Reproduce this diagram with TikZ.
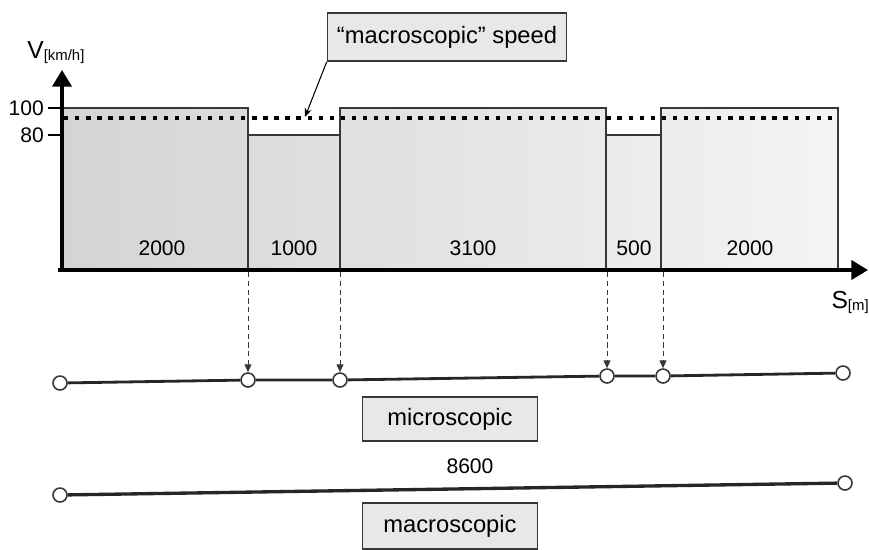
\documentclass[tikz,border=0pt]{standalone}
\usepackage{fontspec}
\setmainfont{Liberation Sans}
\usetikzlibrary{arrows.meta,positioning,calc}
\definecolor{barleft}{RGB}{212,212,212}
\definecolor{barright}{RGB}{244,244,244}
\definecolor{boxgray}{RGB}{232,232,232}
\definecolor{inkgray}{RGB}{55,55,55}

\begin{document}
\begin{tikzpicture}[x=0.02cm, y=-0.02cm,
    axis/.style={line width=1.8pt, -{Triangle[length=9.5pt, width=11pt]}},
    box/.style={draw=inkgray, line width=0.9pt, fill=boxgray, minimum width=#1, minimum height=0.9cm, font=\fontsize{13.5}{16}\selectfont},
    val/.style={font=\fontsize{12}{14}\selectfont, inner sep=1pt},
    pt/.style={circle, draw=inkgray, fill=white, line width=0.9pt, minimum size=0.28cm, inner sep=0pt},
    road/.style={line width=1.6pt, draw=black!85},
    drop/.style={draw=inkgray, line width=0.5pt, dash pattern=on 3pt off 2pt, -{Triangle[length=4.5pt, width=4pt]}},
    avg/.style={line width=2.5pt, dash pattern=on 2.5pt off 3.8pt}
]
\useasboundingbox (0,0) rectangle (869,549);

% speed profile
\shade[left color=barleft, right color=barright] (62,270) |- (248,108) |- (340,135) |- (606,108) |- (661,135) |- (838,108) -- (838,270) -- cycle;
\draw[inkgray, line width=0.6pt] (62,270) |- (248,108) |- (340,135) |- (606,108) |- (661,135) |- (838,108) -- (838,270);
\draw[inkgray, line width=0.6pt] (248,108) -- (248,270);
\draw[inkgray, line width=0.6pt] (340,108) -- (340,270);
\draw[inkgray, line width=0.6pt] (606,108) -- (606,270);
\draw[inkgray, line width=0.6pt] (661,108) -- (661,270);

% axes
\coordinate (orig) at (62,270);
\coordinate (vtip) at (62,70);
\coordinate (stip) at (868,270);
\draw[axis] (62,272) -- (vtip);
\draw[axis] (58,270) -- (stip);
\draw[line width=0.9pt] (48,108) -- (62,108);
\draw[line width=0.9pt] (48,135) -- (62,135);
\node[val, anchor=east] (t100) at (46,108) {100};
\node[val, anchor=east] (t80) at (46,135) {80};
\node[anchor=base west, inner sep=0pt, font=\fontsize{14}{16}\selectfont] (vlab) at (27,58) {V\raisebox{-1.5pt}{\fontsize{8.5}{10}\selectfont[km/h]}};
\node[anchor=base east, inner sep=0pt, font=\fontsize{14}{16}\selectfont] (slab) at (869,308) {S\raisebox{-1.5pt}{\fontsize{8.5}{10}\selectfont[m]}};

% segment lengths
\node[val] (s1) at (162,248) {2000};
\node[val] (s2) at (294,248) {1000};
\node[val] (s3) at (473,248) {3100};
\node[val] (s4) at (634,248) {500};
\node[val] (s5) at (750,248) {2000};

% macroscopic speed
\draw[avg] (64,118) -- (835,118);
\node[box=4.78cm, minimum height=0.96cm] (macspeed) at (447,37) {“macroscopic” speed};
\coordinate (avgdot) at (305,117);
\draw[line width=0.6pt, -{Stealth[length=5pt, width=4pt]}] (macspeed.south west) -- (avgdot);

% microscopic road
\node[pt] (m0) at (60,383) {};
\node[pt] (m1) at (248,380) {};
\node[pt] (m2) at (340,380) {};
\node[pt] (m3) at (607,376) {};
\node[pt] (m4) at (663,376) {};
\node[pt] (m5) at (843,373) {};
\draw[road] (m0) -- (m1) -- (m2) -- (m3) -- (m4) -- (m5);
\draw[drop] (248,272) -- (m1);
\draw[drop] (340,272) -- (m2);
\draw[drop] (607,272) -- (m3);
\draw[drop] (663,272) -- (m4);
\node[box=3.5cm, minimum height=0.88cm] (micro) at (450,419) {microscopic};

% macroscopic road
\node[val] (total) at (470,466) {8600};
\node[pt] (a0) at (60,495) {};
\node[pt] (a1) at (845,483) {};
\draw[road, line width=1.9pt] (a0) -- (a1);
\node[box=3.5cm, minimum height=0.92cm] (macro) at (450,526) {macroscopic};
\end{tikzpicture}
\end{document}
